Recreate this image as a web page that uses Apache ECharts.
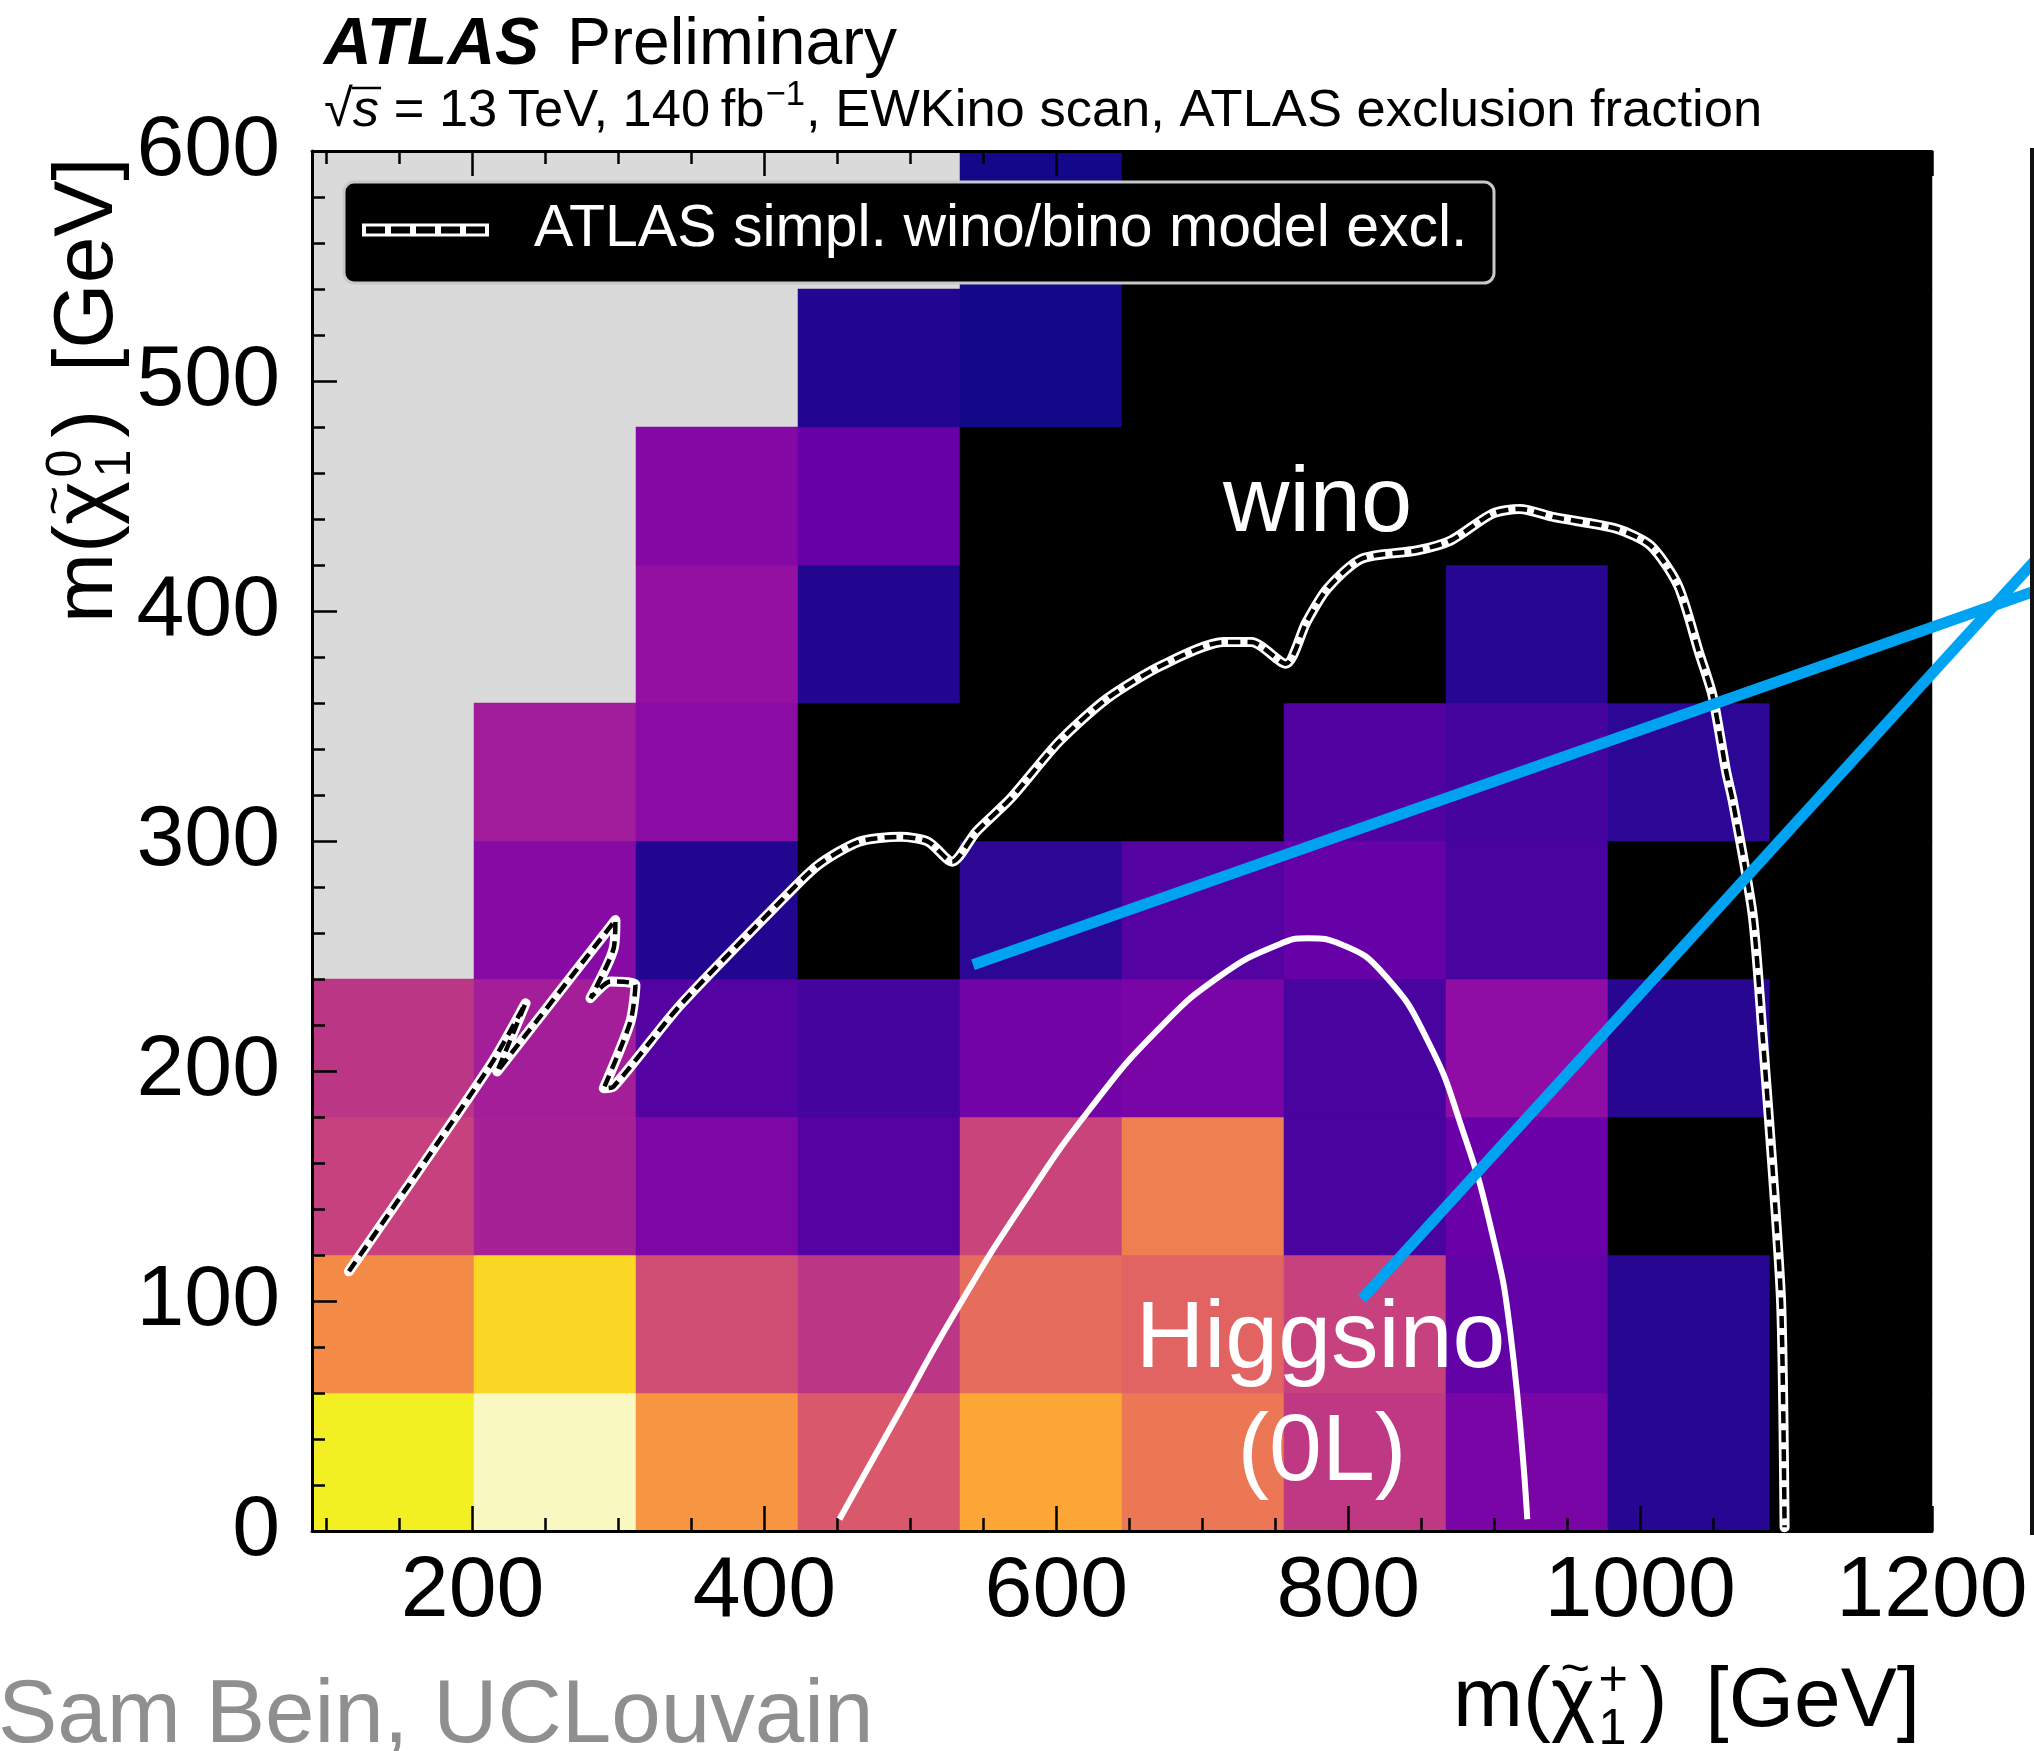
<!DOCTYPE html>
<html>
<head>
<meta charset="utf-8">
<title>ATLAS Preliminary – EWKino scan exclusion fraction</title>
<script src="https://cdn.jsdelivr.net/npm/echarts@6/dist/echarts.min.js"></script>
<style>
  html, body { margin: 0; padding: 0; background: #ffffff; }
  #chart { width: 2034px; height: 1751px; }
</style>
</head>
<body>
<div id="chart"></div>
<script>
// Chargino mass bins [GeV]: ten 111 GeV bins from 90 to 1200, named by their centres
const charginoBins = ['145.5', '256.5', '367.5', '478.5', '589.5', '700.5', '811.5', '922.5', '1033.5', '1144.5'];
// Neutralino mass bins [GeV]: ten 60 GeV bins from 0 to 600, named by their centres
const neutralinoBins = ['30', '90', '150', '210', '270', '330', '390', '450', '510', '570'];

// ATLAS exclusion fraction per (chargino, neutralino) bin.
// One row per neutralino bin, lowest first; null = point not in the scan.
const exclusionFraction = [
  [0.900, 1.000, 0.708, 0.550, 0.750, 0.633, 0.458, 0.283, 0.125, 0],
  [0.683, 0.850, 0.517, 0.450, 0.608, 0.583, 0.483, 0.233, 0.125, 0],
  [0.483, 0.392, 0.292, 0.208, 0.492, 0.650, 0.183, 0.250, 0,     0],
  [0.450, 0.383, 0.208, 0.175, 0.267, 0.283, 0.183, 0.333, 0.125, 0],
  [null,  0.317, 0.117, 0,     0.133, 0.208, 0.242, 0.183, 0,     0],
  [null,  0.375, 0.325, 0,     0,     0,     0.200, 0.175, 0.133, 0],
  [null,  null,  0.342, 0.117, 0,     0,     0,     0.125, 0,     0],
  [null,  null,  0.308, 0.242, 0,     0,     0,     0,     0,     0],
  [null,  null,  null,  0.117, 0.092, 0,     0,     0,     0,     0],
  [null,  null,  null,  null,  0.092, 0,     0,     0,     0,     0]
];

// ATLAS simplified wino/bino model exclusion contour [m(chargino), m(neutralino)] in GeV
const winoContour = [
  [115.3, 112.9], [212.3, 202.6], [236.3, 229.4], [216.9, 199.8], [297.9, 265.6],
  [296.7, 253.3], [280.8, 231.7], [294.5, 238.9], [311.6, 237.4], [308.2, 221.5],
  [289.9, 192.5], [296.7, 193.3], [342.4, 228.7], [413.1, 275.1], [436.7, 289.5],
  [464.9, 299.7], [493.3, 301.8], [512.2, 299.7], [528.6, 291.0], [545.1, 304.0],
  [568.7, 318.5], [601.7, 343.1], [634.7, 361.9], [672.4, 376.4], [714.8, 386.5],
  [733.7, 386.5], [757.2, 377.1], [771.4, 395.2], [785.6, 409.7], [809.1, 422.7],
  [846.8, 426.3], [870.4, 430.7], [898.7, 442.3], [917.6, 444.4], [941.2, 440.8],
  [983.6, 435.8], [1007.1, 428.5], [1026.0, 411.1], [1040.6, 381.5], [1049.6, 363.3],
  [1059.0, 330.1], [1063.5, 317.3], [1077.2, 267.6], [1084.0, 214.9], [1090.9, 156.5],
  [1096.7, 98.0], [1099.0, 1.6]
];

// Higgsino (0L) exclusion contour [GeV]
const higgsinoContour = [
  [451.4, 5.1], [487.9, 46.6], [530.9, 95.3], [577.1, 142.2], [623.4, 183.8],
  [669.7, 218.0], [712.7, 241.5], [752.4, 255.0], [772.2, 257.7], [795.4, 255.0],
  [825.2, 241.5], [854.9, 212.6], [878.1, 174.8], [897.9, 131.4], [911.1, 86.3],
  [922.7, 5.1]
];

// Two pointer strokes leaving the plot to the right [GeV]
const pointerUpper = [[542.9, 246.2], [1275.0, 409.7]];
const pointerLower = [[809.3, 100.8], [1275.0, 425.0]];

// Axis ticks
const xMajorTicks = [200, 400, 600, 800, 1000, 1200];
const xMinorTicks = [100, 150, 200, 250, 300, 350, 400, 450, 500, 550, 600, 650,
                     700, 750, 800, 850, 900, 950, 1000, 1050, 1100, 1150, 1200];
const yTickStep = 100;

// Text anchors [GeV]: centre x, baseline y
const winoLabelAt = [779, 432];
const higgsinoLabelAt = [781, 68.4];
const zeroLeptonLabelAt = [782, 19.1];

// ---------------------------------------------------------------------------
const FONT_FAMILY = "'Liberation Sans', Arial, Helvetica, sans-serif";
const fractionPalette = ['#000000', '#0d0887', '#41049d', '#6a00a8', '#8f0da4', '#b12a90',
  '#cc4778', '#e16462', '#f2844b', '#fca636', '#fcce25', '#f0f921', '#f8f8c0'];

const heatData = [];
exclusionFraction.forEach(function (row, j) {
  row.forEach(function (v, i) { if (v !== null) heatData.push([i, j, v]); });
});

const measureCtx = document.createElement('canvas').getContext('2d');
function fontOf(size, style, weight) {
  return (style || 'normal') + ' ' + (weight || 'normal') + ' ' + size + 'px ' + FONT_FAMILY;
}
function advance(text, size, style, weight) {
  measureCtx.font = fontOf(size, style, weight);
  return measureCtx.measureText(text).width;
}
// text element whose alphabetic baseline sits at y
function textAt(text, x, y, size, o) {
  o = o || {};
  const align = o.align || 'left';
  return {
    type: 'text', x: x, y: y - 0.3465 * size, z: o.z || 100, silent: true,
    style: {
      text: text, fill: o.color || '#000000', font: fontOf(size, o.style, o.weight),
      align: align, verticalAlign: 'middle', textAlign: align, textVerticalAlign: 'middle'
    }
  };
}
// "m(χ̃ with stacked scripts) [GeV]" laid out along a baseline at local y = 0
function massTitle(sup, size) {
  const els = [];
  let x = 0;
  els.push(textAt('m(', x, 0, size));
  x += advance('m(', size);
  const chiW = advance('χ', size);
  els.push(textAt('χ', x, 0, size));
  els.push(textAt('~', x + chiW * 0.55, -0.52 * size, size * 0.6, { align: 'center' }));
  x += chiW + 0.04 * size;
  const ss = size * 0.6;
  els.push(textAt(sup, x, -0.40 * size, ss));
  els.push(textAt('1', x, 0.19 * size, ss));
  x += Math.max(advance(sup, ss), advance('1', ss)) + 0.14 * size;
  els.push(textAt(')', x, 0, size));
  x += advance(')', size) + 0.45 * size;
  els.push(textAt('[GeV]', x, 0, size));
  return els;
}

const chart = echarts.init(document.getElementById('chart'), null, { renderer: 'canvas' });

const tickLine = { color: '#000000', width: 2.5 };
const frameLine = { show: true, lineStyle: { color: '#000000', width: 3 } };
const plainNumber = function (v) { return String(v); };

chart.setOption({
  animation: false,
  backgroundColor: '#ffffff',
  grid: [{ left: 312, top: 151, width: 1620, height: 1380, show: true,
           backgroundColor: '#dadada', borderWidth: 0 }],
  visualMap: [{
    type: 'continuous', show: false, seriesIndex: 0, min: 0, max: 1,
    inRange: { color: fractionPalette }
  }],
  xAxis: [
    { type: 'category', gridIndex: 0, data: charginoBins, show: false },
    { type: 'value', gridIndex: 0, position: 'bottom', min: 90, max: 1200, z: 5,
      axisLine: frameLine, splitLine: { show: false },
      axisTick: { show: true, inside: true, length: 25, customValues: xMajorTicks, lineStyle: tickLine },
      axisLabel: { show: true, customValues: xMajorTicks, margin: 18, fontSize: 86,
                   fontFamily: FONT_FAMILY, color: '#000000', formatter: plainNumber } },
    { type: 'value', gridIndex: 0, position: 'bottom', min: 90, max: 1200, z: 5,
      axisLine: { show: false }, splitLine: { show: false }, axisLabel: { show: false },
      axisTick: { show: true, inside: true, length: 13, customValues: xMinorTicks, lineStyle: tickLine } },
    { type: 'value', gridIndex: 0, position: 'top', min: 90, max: 1200, z: 5,
      axisLine: frameLine, splitLine: { show: false }, axisLabel: { show: false },
      axisTick: { show: true, inside: true, length: 25, customValues: xMajorTicks, lineStyle: tickLine } },
    { type: 'value', gridIndex: 0, position: 'top', min: 90, max: 1200, z: 5,
      axisLine: { show: false }, splitLine: { show: false }, axisLabel: { show: false },
      axisTick: { show: true, inside: true, length: 13, customValues: xMinorTicks, lineStyle: tickLine } }
  ],
  yAxis: [
    { type: 'category', gridIndex: 0, data: neutralinoBins, show: false },
    { type: 'value', gridIndex: 0, position: 'left', min: 0, max: 600, interval: yTickStep, z: 5,
      axisLine: frameLine, splitLine: { show: false },
      axisTick: { show: true, inside: true, length: 25, lineStyle: tickLine },
      minorTick: { show: true, splitNumber: 5, length: 13, lineStyle: tickLine },
      axisLabel: { show: true, margin: 32, fontSize: 86, fontFamily: FONT_FAMILY, color: '#000000',
                   formatter: plainNumber } }
  ],
  series: [
    { type: 'heatmap', name: 'exclusion fraction', xAxisIndex: 0, yAxisIndex: 0,
      data: heatData, z: 2, silent: true, progressive: 0, emphasis: { disabled: true } },
    { type: 'line', name: 'ATLAS simpl. wino/bino model excl.', xAxisIndex: 1, yAxisIndex: 1,
      data: winoContour, showSymbol: false, symbol: 'none', smooth: 0.25, silent: true, z: 6,
      lineStyle: { color: '#ffffff', width: 10, cap: 'round', join: 'round' } },
    { type: 'line', name: 'wino dashes', xAxisIndex: 1, yAxisIndex: 1,
      data: winoContour, showSymbol: false, symbol: 'none', smooth: 0.25, silent: true, z: 7,
      lineStyle: { color: '#000000', width: 4.5, type: [12, 7] } },
    { type: 'line', name: 'Higgsino (0L)', xAxisIndex: 1, yAxisIndex: 1,
      data: higgsinoContour, showSymbol: false, symbol: 'none', smooth: true, silent: true, z: 9,
      lineStyle: { color: '#ffffff', width: 6 } }
  ]
});

// ---- text and decorations ----
const gfx = [];
function px(p) { return chart.convertToPixel({ xAxisIndex: 1, yAxisIndex: 1 }, p); }

// pointer strokes, placed through the value axes (they run past the frame)
[pointerUpper, pointerLower].forEach(function (seg) {
  const a = px(seg[0]), b = px(seg[1]);
  gfx.push({ type: 'line', z: 80, silent: true,
             shape: { x1: a[0], y1: a[1], x2: b[0], y2: b[1] },
             style: { stroke: '#00a2f2', lineWidth: 11 } });
});

// header
gfx.push(textAt('ATLAS', 324, 69, 66, { style: 'italic', weight: 'bold' }));
gfx.push(textAt('Preliminary', 567, 69, 66));

(function subtitle() {
  const size = 52.5, base = 130;
  let x = 324;
  gfx.push(textAt('√', x, base, size));
  x += advance('√', size);
  const sStart = x;
  gfx.push(textAt('s', x, base, size, { style: 'italic' }));
  x += advance('s', size, 'italic');
  gfx.push({ type: 'line', z: 100, silent: true,
             shape: { x1: sStart - 1, y1: base - 0.80 * size, x2: x + 2, y2: base - 0.80 * size },
             style: { stroke: '#000000', lineWidth: 2.5 } });
  const part1 = ' = 13\u2009TeV, 140\u2009fb';
  gfx.push(textAt(part1, x, base, size));
  x += advance(part1, size);
  const ss = size * 0.66;
  gfx.push(textAt('\u22121', x + 1, base - 0.42 * size, ss));
  x += advance('\u22121', ss) + 2;
  gfx.push(textAt(', EWKino scan, ATLAS exclusion fraction', x, base, size));
})();

// axis titles
gfx.push({ type: 'group', x: 1453, y: 1732, children: massTitle('+', 84) });
gfx.push({ type: 'group', x: 118, y: 623, rotation: Math.PI / 2, children: massTitle('0', 84) });

// legend box
gfx.push({ type: 'rect', z: 90, silent: true,
           shape: { x: 344, y: 182, width: 1150, height: 101, r: 10 },
           style: { fill: '#000000', stroke: '#c8c8c8', lineWidth: 3 } });
gfx.push({ type: 'line', z: 91, silent: true,
           shape: { x1: 362, y1: 230, x2: 489, y2: 230 },
           style: { stroke: '#ffffff', lineWidth: 13 } });
gfx.push({ type: 'line', z: 92, silent: true,
           shape: { x1: 366, y1: 230, x2: 485, y2: 230 },
           style: { stroke: '#000000', lineWidth: 7, lineDash: [19, 6] } });
gfx.push(textAt('ATLAS simpl. wino/bino model excl.', 534, 250, 59, { color: '#ffffff', z: 93 }));

// in-plot labels anchored in data space
const pw = px(winoLabelAt), ph = px(higgsinoLabelAt), pz = px(zeroLeptonLabelAt);
gfx.push(textAt('wino', pw[0], pw[1], 92, { color: '#ffffff', align: 'center' }));
gfx.push(textAt('Higgsino', ph[0], ph[1], 95, { color: '#ffffff', align: 'center' }));
gfx.push(textAt('(0L)', pz[0], pz[1], 95, { color: '#ffffff', align: 'center' }));

// edge of the neighbouring panel
gfx.push({ type: 'rect', z: 100, silent: true,
           shape: { x: 2030, y: 148, width: 4, height: 1387 },
           style: { fill: '#111111' } });

// footer
gfx.push(textAt('Sam Bein, UCLouvain', -2, 1748, 89, { color: '#8f8f8f' }));

chart.setOption({ graphic: gfx });
</script>
</body>
</html>
